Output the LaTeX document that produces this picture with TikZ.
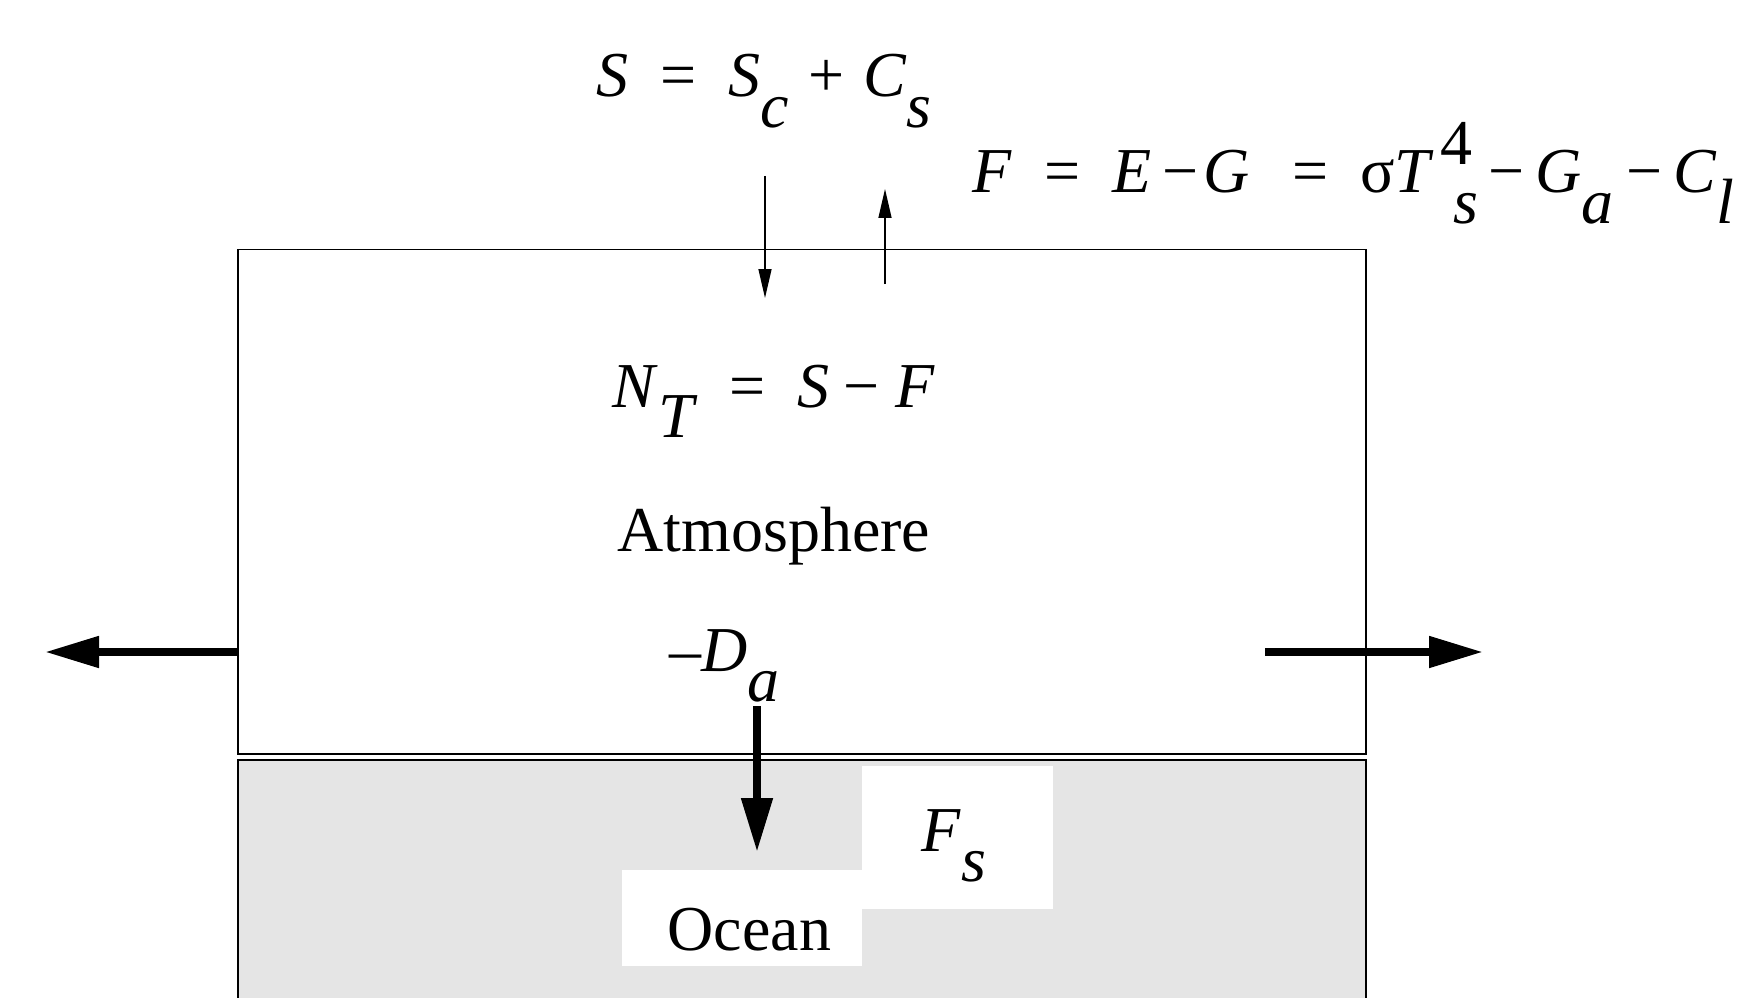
\documentclass[tikz,border=0pt]{standalone}
\usepackage{fontspec}
\setmainfont{Liberation Serif}
\usetikzlibrary{arrows.meta}
\newcommand{\lo}[1]{\raisebox{-0.47em}{#1}}
\newcommand{\hi}[1]{\raisebox{0.44em}{#1}}
\begin{document}
\begin{tikzpicture}[x=0.1mm,y=-0.1mm,
    layer/.style={draw,line width=0.15mm,inner sep=0pt,anchor=north west},
    patch/.style={fill=white,inner sep=0pt,anchor=north west},
    eq/.style={inner sep=0pt,anchor=base west,font=\fontsize{18.2}{22}\selectfont},
    flux/.style={line width=0.15mm,-{Triangle[length=2.9mm,width=1.3mm]}},
    bigflux/.style={line width=0.8mm,-{Triangle[length=5.4mm,width=3mm]}}
]
\useasboundingbox (0,0) rectangle (1762,998);

% the two layers
\node[layer,minimum width=112.8mm,minimum height=50.4mm] (atm) at (237,249) {};
\node[layer,fill=black!10,minimum width=112.8mm,minimum height=26mm] (ocn) at (237,759) {};
\node[patch,minimum width=19.1mm,minimum height=14.3mm] (fsbg) at (861,765) {};
\node[patch,minimum width=24mm,minimum height=9.6mm] (ocbg) at (621,869) {};

% labels
\node[eq] (seq) at (596,97) {\textit{S}\enspace=\enspace\textit{S}\lo{\textit{c}}\hspace{0.3em}+\hspace{0.3em}\textit{C}\lo{\textit{s}}};
\node[eq] (feq) at (972,193) {\textit{F}\enspace=\enspace\textit{E}\,−\hspace{0.08em}\textit{G}\enspace\,=\enspace σ\textit{T}\hspace{0.1em}\rlap{\hi{4}}\hspace{0.2em}\lo{\textit{s}}\,−\,\textit{G}\lo{\textit{a}}\hspace{0.2em}−\,\textit{C}\lo{\textit{l}}};
\node[eq] (neq) at (612,407) {\textit{N}\lo{\textit{T}}\enspace=\enspace\textit{S}\hspace{0.22em}−\hspace{0.25em}\textit{F}};
\node[eq,anchor=base] (atml) at (774,551) {Atmosphere};
\node[eq] (dlab) at (669,671) {–\textit{D}\lo{\textit{a}}};
\node[eq] (fsl) at (921,851) {\textit{F}\lo{\textit{s}}};
\node[eq] (ocl) at (667,950) {Ocean};

% fluxes
\coordinate (sin0) at (765,176);
\coordinate (sin1) at (765,298);
\coordinate (fout0) at (885,284);
\coordinate (fout1) at (885,189);
\coordinate (dw0) at (239,652);
\coordinate (dw1) at (45,652);
\coordinate (de0) at (1265,652);
\coordinate (de1) at (1483,652);
\coordinate (dd0) at (757,706);
\coordinate (dd1) at (757,852);

\draw[flux] (sin0) -- (sin1);
\draw[flux] (fout0) -- (fout1);
\draw[bigflux] (dw0) -- (dw1);
\draw[bigflux] (de0) -- (de1);
\draw[bigflux] (dd0) -- (dd1);
\end{tikzpicture}
\end{document}
